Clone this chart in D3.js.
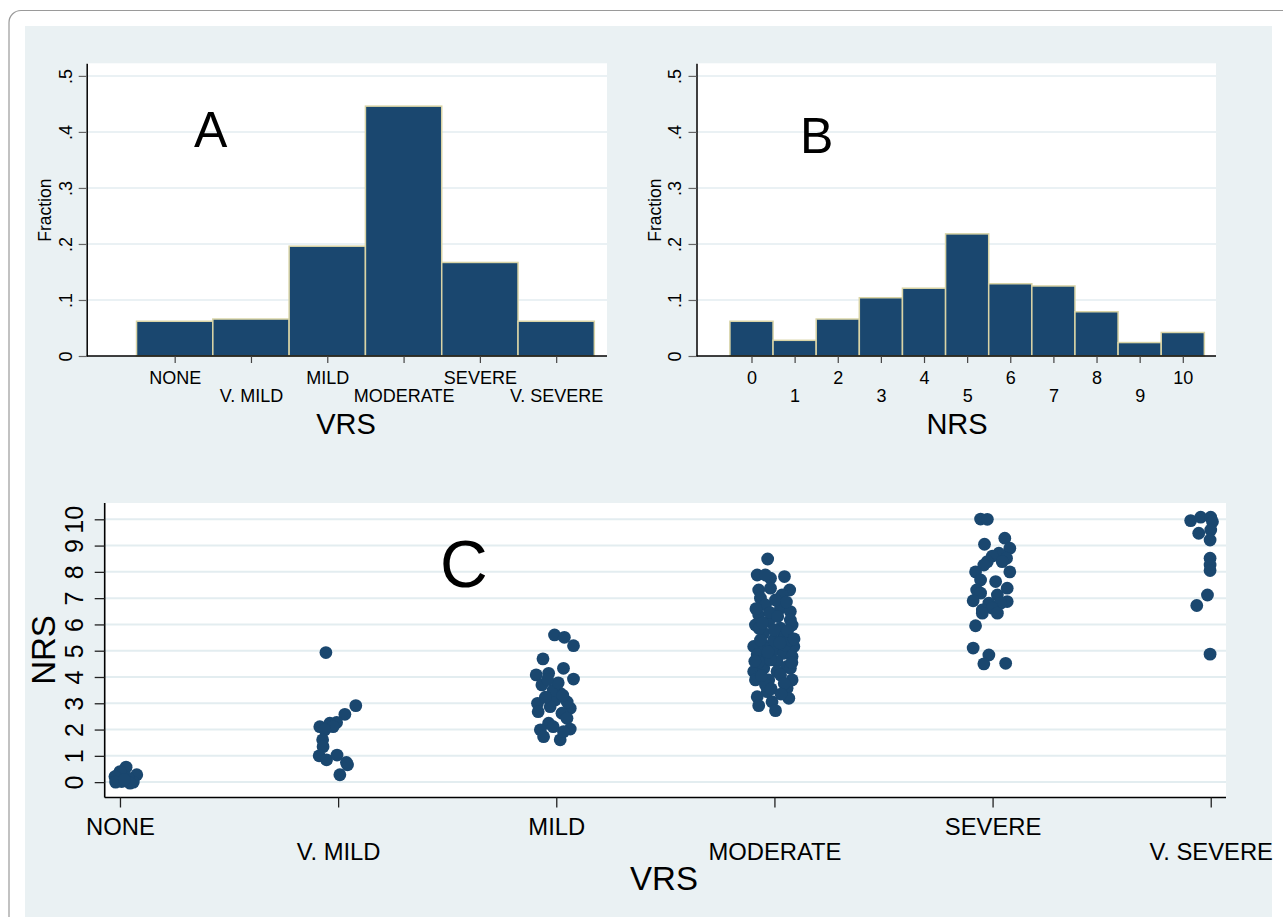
<!DOCTYPE html>
<html>
<head>
<meta charset="utf-8">
<script src="https://cdn.jsdelivr.net/npm/d3@7"></script>
<style>
  body { margin: 0; background: #fff; }
  svg text { font-family: "Liberation Sans", Arial, sans-serif; fill: #000; }
</style>
</head>
<body>
<div id="chart"></div>
<script>
// ---- data ----
const vrsLabels = ['NONE', 'V. MILD', 'MILD', 'MODERATE', 'SEVERE', 'V. SEVERE'];
const vrsFraction = [0.062, 0.066, 0.196, 0.446, 0.167, 0.062];

const nrsLevels = [0, 1, 2, 3, 4, 5, 6, 7, 8, 9, 10];
const nrsFraction = [0.062, 0.028, 0.066, 0.104, 0.121, 0.218, 0.129, 0.125, 0.079, 0.024, 0.042];

const fractionTicks = [0, 0.1, 0.2, 0.3, 0.4, 0.5];
const nrsTicks = [0, 1, 2, 3, 4, 5, 6, 7, 8, 9, 10];

// scatter points: [jitter offset in category units, NRS]
const ptsNone = [[0.028, 0.57], [0.077, 0.28], [-0.008, 0.28], [-0.015, 0.09], [0.061, 0.0], [0.008, 0.02],
  [0.038, 0.15], [0.0, 0.40], [-0.023, 0.21], [0.046, -0.04], [-0.02, 0.0], [0.02, 0.1]];
const ptsVMild = [[-0.056, 4.93], [0.081, 2.91], [0.031, 2.58], [-0.084, 2.11], [-0.038, 2.24], [-0.007, 2.27],
  [-0.023, 2.11], [-0.061, 1.99], [-0.071, 1.61], [-0.069, 1.35], [-0.087, 1.0], [-0.053, 0.85],
  [-0.005, 1.03], [0.038, 0.75], [0.043, 0.66], [0.008, 0.28]];
const ptsMild = [[-0.008, 5.6], [0.037, 5.51], [0.079, 5.19], [-0.061, 4.69], [0.033, 4.33], [-0.092, 4.08],
  [-0.035, 4.14], [0.079, 3.92], [-0.066, 3.70], [0.018, 3.38], [-0.005, 3.13], [-0.086, 3.0],
  [-0.028, 2.87], [0.064, 2.81], [0.026, 2.62], [0.049, 2.43], [-0.035, 2.24], [-0.073, 1.99],
  [0.064, 2.02], [-0.058, 1.73], [0.018, 1.61], [0.033, 1.92], [-0.014, 3.5], [-0.05, 3.23],
  [0.009, 3.78], [0.05, 3.05], [-0.083, 2.68], [-0.014, 2.11], [0.03, 3.3], [-0.04, 3.9]];
const ptsModerate = [[-0.031, 8.49], [-0.079, 7.88], [-0.018, 7.76], [0.046, 7.82], [-0.072, 7.31], [0.070, 7.31],
  [-0.018, 7.38], [0.035, 7.12], [-0.064, 7.0], [-0.041, 6.74], [0.028, 6.62], [0.073, 6.49],
  [-0.072, 6.36], [0.073, 6.17], [-0.087, 5.98], [-0.026, 6.11], [0.081, 5.98], [0.028, 5.86],
  [-0.049, 5.67], [0.043, 5.54], [-0.095, 5.16], [0.089, 5.16], [-0.049, 5.22], [-0.003, 5.03],
  [0.043, 4.90], [-0.079, 4.84], [0.081, 4.78], [-0.033, 4.71], [0.012, 4.59], [0.058, 4.40],
  [-0.095, 4.21], [-0.049, 4.33], [0.012, 4.21], [0.073, 4.33], [-0.087, 3.89], [-0.026, 3.89],
  [0.081, 3.89], [0.058, 3.57], [-0.033, 3.44], [-0.079, 3.25], [0.066, 3.19], [-0.011, 3.06],
  [-0.072, 2.91], [0.005, 2.72], [-0.003, 5.41], [0.0, 5.79], [-0.064, 5.41], [0.05, 5.22],
  [-0.018, 4.65], [0.028, 4.08], [-0.041, 3.70], [-0.073, 4.57], [0.073, 5.41], [0.005, 6.93],
  [-0.041, 7.88], [-0.02, 6.45], [0.055, 6.85], [-0.085, 6.6], [0.015, 6.3], [0.06, 5.75],
  [-0.07, 5.85], [0.025, 5.3], [-0.03, 4.95], [0.08, 4.55], [-0.06, 4.05], [0.045, 3.75],
  [-0.015, 3.55], [0.03, 3.35], [-0.09, 4.6], [0.09, 5.45], [-0.055, 6.05]];
const ptsSevere = [[-0.055, 10.01], [-0.024, 10.0], [0.056, 9.28], [-0.037, 9.05], [0.079, 8.9], [0.029, 8.71],
  [-0.001, 8.6], [0.064, 8.52], [-0.024, 8.39], [-0.040, 8.26], [0.044, 8.39], [-0.078, 8.0],
  [0.079, 8.0], [-0.055, 7.69], [0.014, 7.63], [-0.073, 7.31], [0.067, 7.38], [-0.055, 7.19],
  [0.022, 7.12], [-0.089, 6.9], [0.067, 6.87], [-0.017, 6.81], [0.037, 6.81], [-0.047, 6.55],
  [-0.001, 6.62], [0.022, 6.43], [-0.047, 6.43], [-0.078, 5.95], [-0.089, 5.10], [-0.017, 4.84],
  [-0.040, 4.50], [0.060, 4.52]];
const ptsVSevere = [[-0.092, 9.95], [-0.046, 10.08], [0.0, 10.08], [0.008, 9.91], [-0.055, 9.47], [0.0, 9.59],
  [-0.003, 9.21], [-0.003, 8.52], [-0.003, 8.26], [-0.003, 8.05], [-0.015, 7.12], [-0.064, 6.72],
  [-0.003, 4.87]];
const scatterGroups = [ptsNone, ptsVMild, ptsMild, ptsModerate, ptsSevere, ptsVSevere];

// ---- styles ----
const NAVY = '#1a476f';
const BAR_EDGE = '#d9d4a6';
const BG = '#eaf1f3';
const GRID = '#e3edf0';

const svg = d3.select('#chart').append('svg')
  .attr('width', 1283)
  .attr('height', 917);

// frame + graph region
svg.append('rect')
  .attr('x', 9).attr('y', 10.5)
  .attr('width', 1300).attr('height', 960)
  .attr('rx', 12)
  .attr('fill', '#fff')
  .attr('stroke', '#9a9a9a')
  .attr('stroke-width', 1.2);

svg.append('rect')
  .attr('x', 25).attr('y', 26)
  .attr('width', 1247).attr('height', 900)
  .attr('fill', BG);

const fracFormat = d => d === 0 ? '0' : d3.format('.1f')(d).replace('0.', '.');

function histogram(cfg) {
  const x = d3.scaleLinear().domain(cfg.xDomain).range([cfg.left, cfg.right]);
  const y = d3.scaleLinear().domain([0, 0.5225]).range([cfg.bottom, cfg.top]);
  const g = svg.append('g');

  g.append('rect')
    .attr('x', cfg.left).attr('y', cfg.top)
    .attr('width', cfg.right - cfg.left).attr('height', cfg.bottom - cfg.top)
    .attr('fill', '#fff');

  g.selectAll('.grid')
    .data(fractionTicks.filter(d => d > 0))
    .enter()
    .append('line')
    .attr('x1', cfg.left).attr('x2', cfg.right)
    .attr('y1', d => y(d)).attr('y2', d => y(d))
    .attr('stroke', GRID)
    .attr('stroke-width', 1.5);

  g.selectAll('.bar')
    .data(cfg.values)
    .enter()
    .append('rect')
    .attr('x', (d, i) => x(cfg.cats[i] - 0.5))
    .attr('width', (d, i) => x(cfg.cats[i] + 0.5) - x(cfg.cats[i] - 0.5))
    .attr('y', d => y(d))
    .attr('height', d => y(0) - y(d))
    .attr('fill', NAVY)
    .attr('stroke', BAR_EDGE)
    .attr('stroke-width', 1.5);

  const yAxis = g.append('g')
    .attr('transform', `translate(${cfg.left},0)`)
    .call(d3.axisLeft(y).tickValues(fractionTicks).tickFormat(fracFormat).tickSize(8).tickSizeOuter(0));
  yAxis.select('.domain').attr('stroke', '#000').attr('stroke-width', 1.5);
  yAxis.selectAll('.tick line').attr('stroke', '#666').attr('stroke-width', 1.2);
  yAxis.selectAll('.tick text')
    .attr('x', null).attr('dy', null)
    .attr('transform', `translate(${cfg.yLabelX - cfg.left},0) rotate(-90)`)
    .attr('text-anchor', 'middle')
    .style('font-size', '18px')
    .style('font-family', '"Liberation Sans", Arial, sans-serif');

  const xAxis = g.append('g')
    .attr('transform', `translate(0,${cfg.bottom})`)
    .call(d3.axisBottom(x).tickValues(cfg.cats).tickFormat((d, i) => cfg.labels[i]).tickSize(7).tickSizeOuter(0));
  xAxis.select('.domain').attr('stroke', '#000').attr('stroke-width', 1.5)
    .attr('d', `M${cfg.left},0H${cfg.right}`);
  xAxis.selectAll('.tick line').attr('stroke', '#444').attr('stroke-width', 1.2);
  xAxis.selectAll('.tick text')
    .attr('dy', null)
    .attr('y', (d, i) => i % 2 === 0 ? 28 : 45.7)
    .style('font-size', '18px')
    .style('font-family', '"Liberation Sans", Arial, sans-serif');

  g.append('text')
    .attr('transform', `translate(${cfg.fracX},${(cfg.top + cfg.bottom) / 2 + 0.5}) rotate(-90)`)
    .attr('text-anchor', 'middle')
    .style('font-size', '17.5px')
    .text('Fraction');

  g.append('text')
    .attr('x', cfg.titleX).attr('y', 434)
    .attr('text-anchor', 'middle')
    .style('font-size', '29px')
    .text(cfg.title);

  g.append('text')
    .attr('x', cfg.letterX).attr('y', cfg.letterY)
    .style('font-size', '50px')
    .text(cfg.letter);
}

histogram({
  left: 86.7, right: 607, top: 63.3, bottom: 356,
  xDomain: [-1.153, 5.666],
  cats: vrsLabels.map((d, i) => i),
  labels: vrsLabels,
  values: vrsFraction,
  yLabelX: 72, fracX: 51,
  title: 'VRS', titleX: 346,
  letter: 'A', letterX: 194, letterY: 147
});

histogram({
  left: 696.5, right: 1216, top: 63.3, bottom: 356,
  xDomain: [-1.275, 10.77],
  cats: nrsLevels,
  labels: nrsLevels.map(String),
  values: nrsFraction,
  yLabelX: 681, fracX: 661,
  title: 'NRS', titleX: 957,
  letter: 'B', letterX: 800, letterY: 153
});

// ---- panel C: jittered scatter ----
const cLeft = 104.7, cRight = 1226, cTop = 503, cBottom = 797.5;
const xC = d3.scaleLinear().domain([-0.07, 5.07]).range([cLeft, cRight]);
const yC = d3.scaleLinear().domain([-0.585, 10.62]).range([cBottom, cTop]);
const gC = svg.append('g');

gC.append('rect')
  .attr('x', cLeft).attr('y', cTop)
  .attr('width', cRight - cLeft).attr('height', cBottom - cTop)
  .attr('fill', '#fff');

gC.selectAll('.grid')
  .data(nrsTicks)
  .enter()
  .append('line')
  .attr('x1', cLeft).attr('x2', cRight)
  .attr('y1', d => yC(d)).attr('y2', d => yC(d))
  .attr('stroke', GRID)
  .attr('stroke-width', 2);

const points = [];
scatterGroups.forEach((grp, ci) => grp.forEach(p => points.push({ cat: ci, dx: p[0], nrs: p[1] })));

gC.selectAll('.dot')
  .data(points)
  .enter()
  .append('circle')
  .attr('cx', d => xC(d.cat + d.dx))
  .attr('cy', d => yC(d.nrs))
  .attr('r', 6.4)
  .attr('fill', NAVY);

const yAxisC = gC.append('g')
  .attr('transform', `translate(${cLeft},0)`)
  .call(d3.axisLeft(yC).tickValues(nrsTicks).tickSize(10).tickSizeOuter(0));
yAxisC.select('.domain').attr('stroke', '#000').attr('stroke-width', 1.6)
  .attr('d', `M0,${cTop}V${cBottom}`);
yAxisC.selectAll('.tick line').attr('stroke', '#222').attr('stroke-width', 1.3);
yAxisC.selectAll('.tick text')
  .attr('x', null).attr('dy', null)
  .attr('transform', `translate(${83 - cLeft},0) rotate(-90)`)
  .attr('text-anchor', 'middle')
  .style('font-size', '25px')
  .style('font-family', '"Liberation Sans", Arial, sans-serif');

const xAxisC = gC.append('g')
  .attr('transform', `translate(0,${cBottom})`)
  .call(d3.axisBottom(xC).tickValues(vrsLabels.map((d, i) => i)).tickFormat((d, i) => vrsLabels[i]).tickSize(10).tickSizeOuter(0));
xAxisC.select('.domain').attr('stroke', '#000').attr('stroke-width', 1.6)
  .attr('d', `M${cLeft},0H${cRight}`);
xAxisC.selectAll('.tick line').attr('stroke', '#222').attr('stroke-width', 1.3);
xAxisC.selectAll('.tick text')
  .attr('dy', null)
  .attr('y', (d, i) => i % 2 === 0 ? 37.5 : 62.5)
  .style('font-size', '23.8px')
  .style('font-family', '"Liberation Sans", Arial, sans-serif');

gC.append('text')
  .attr('transform', `translate(55,650) rotate(-90)`)
  .attr('text-anchor', 'middle')
  .style('font-size', '33px')
  .text('NRS');

gC.append('text')
  .attr('x', 664).attr('y', 890)
  .attr('text-anchor', 'middle')
  .style('font-size', '33px')
  .text('VRS');

gC.append('text')
  .attr('x', 440).attr('y', 587)
  .style('font-size', '66px')
  .text('C');
</script>
</body>
</html>
